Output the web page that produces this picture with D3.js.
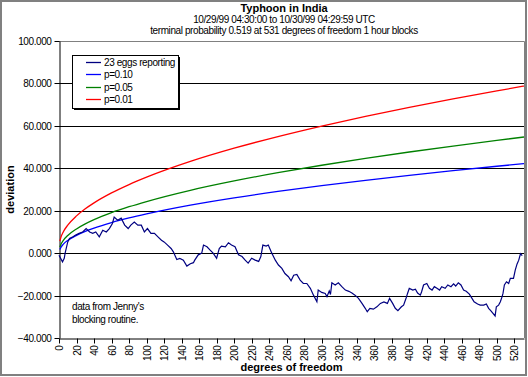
<!DOCTYPE html>
<html>
<head>
<meta charset="utf-8">
<script src="https://cdn.jsdelivr.net/npm/d3@7"></script>
<style>
  body { margin: 0; background: #fff; }
  svg text { font-family: "Liberation Sans", Arial, sans-serif; font-size: 10px; letter-spacing: -0.4px; fill: #000; }
  svg text.bold { font-size: 11px; font-weight: bold; letter-spacing: 0; }
</style>
</head>
<body>
<svg id="chart" width="528" height="377"></svg>
<script>
// degrees of freedom where the envelope curves were read
const envDf = [1, 2, 5, 10, 20, 30, 40, 60, 80, 100, 150, 200, 250, 300, 350, 400, 450, 500, 531];
const p10 = [1.71, 2.6, 4.24, 5.99, 8.41, 10.26, 11.8, 14.4, 16.58, 18.5, 22.63, 26.06, 29.09, 31.82, 34.34, 36.68, 38.88, 40.96, 42.2];
const p05 = [2.84, 3.99, 6.07, 8.31, 11.41, 13.77, 15.76, 19.08, 21.88, 24.34, 29.63, 34.04, 37.92, 41.43, 44.66, 47.67, 50.49, 53.16, 54.75];
const p01 = [5.63, 7.21, 10.09, 13.21, 17.57, 20.89, 23.69, 28.38, 32.33, 35.81, 43.23, 49.47, 54.96, 59.92, 64.49, 68.74, 72.73, 76.5, 78.75];

// cumulative deviation of the 23 eggs
const eggDf = [0, 4, 6, 7, 10, 12, 16, 19, 23, 27, 31, 35, 38.5, 42, 46, 50, 54, 57.5, 61, 63, 67, 71, 75, 79, 82, 86, 90, 94, 97.5, 101, 105, 109, 113, 117, 120, 124, 128, 130.6, 134.5, 138, 142, 146, 150, 153.5, 155, 159, 163, 165, 169, 172.6, 176, 180, 183, 185.5, 190, 193.5, 197, 201, 205, 209, 212.6, 216, 220, 224, 228, 230.5, 232.8, 236.6, 239, 243, 247, 250.6, 254.5, 258, 262, 265, 268, 271.6, 275.4, 279, 283, 287, 290.6, 294.5, 296, 300, 304, 306, 308.6, 310, 311.6, 315.4, 319, 323, 327, 331, 334.5, 338, 342, 346, 349.7, 352, 355, 359, 363, 367, 371, 375, 377.5, 381, 384, 387, 391, 393.5, 396.6, 398, 400, 404, 407, 409.5, 412.6, 414, 416.3, 420, 423, 426, 428.6, 431.6, 434.6, 437, 441, 444, 447.6, 450.6, 453, 456, 459, 462, 465, 468.6, 471.6, 474, 478, 481, 485, 488, 490.6, 493, 495.6, 498, 499.4, 502, 504, 506, 507, 508.6, 511, 513.5, 515.4, 519, 521, 523, 525, 527, 529];
const eggDev = [-1, -4.1, -2.4, 0, 5.3, 6.9, 7.7, 8.5, 9.3, 10, 11.6, 10, 9.3, 10, 7.7, 10.8, 10, 11.6, 14, 17, 15.5, 16.5, 13.2, 11.6, 13.2, 14.7, 13.2, 13.2, 10, 11.6, 9.3, 9.3, 7.7, 6.1, 5.3, 3.8, 2.2, 0.6, -3, -2.5, -3.3, -6.1, -5, -4.5, -3.3, -0.8, 0, 3.8, 3, 1.4, 0, -2.4, 2.2, 3.3, 3, 4.9, 3.8, 3, -0.8, -1.6, -3.3, -4.7, -2.4, -3.3, -3.9, -1.6, 3.8, 3.3, 3.8, 0, -3.3, -5.6, -7.2, -9.6, -11.1, -13, -10.4, -10, -12.7, -14.3, -14.3, -16.6, -19.8, -22.9, -17.4, -18.5, -19, -20.5, -17.8, -19.5, -14, -15, -14, -15.8, -17.4, -18, -18.8, -19.8, -21.3, -23.7, -26, -27.6, -26, -26.4, -25.3, -23.7, -23, -23.7, -21.3, -23.7, -26, -27.1, -25.3, -24.5, -20.9, -19, -16.6, -17.4, -17, -18.8, -19.8, -18.3, -15, -14.3, -16.6, -17.4, -15.8, -16.6, -17.4, -15.8, -16.6, -15, -15.8, -14.5, -15.5, -14, -15, -17.4, -18, -19.3, -21.3, -22.9, -24, -24.5, -24.5, -24, -26, -27.1, -28.4, -29.6, -25.3, -24.5, -22.9, -20.5, -19, -15, -13.5, -14.3, -11.9, -11.9, -8, -5.2, -3.3, -0.3, -1.2];

const xTicks = d3.range(0, 521, 20);
const yTicks = d3.range(-40, 101, 20);

const titleLines = [
  'Typhoon in India',
  '10/29/99 04:30:00 to 10/30/99 04:29:59 UTC',
  'terminal probability 0.519 at 531 degrees of freedom 1 hour blocks',
];
const legendItems = [
  { label: '23 eggs reporting', color: '#000080' },
  { label: 'p=0.10', color: '#0000ff' },
  { label: 'p=0.05', color: '#008000' },
  { label: 'p=0.01', color: '#ff0000' },
];
const noteLines = ["data from Jenny's", 'blocking routine.'];

const svg = d3.select('#chart');
const plotLeft = 59, plotRight = 524, plotTop = 41, plotBottom = 338;

const x = d3.scaleLinear().domain([0, 531]).range([plotLeft, plotRight]);
const y = d3.scaleLinear().domain([-40, 100]).range([plotBottom, plotTop]);

// outer frame
svg.append('rect')
  .attr('x', 1).attr('y', 1).attr('width', 525).attr('height', 374)
  .attr('fill', '#fff').attr('stroke', '#808080').attr('stroke-width', 2);

// titles
titleLines.forEach((t, i) => {
  svg.append('text')
    .attr('class', i === 0 ? 'bold' : null)
    .attr('x', 284).attr('y', 12 + i * 11)
    .attr('text-anchor', 'middle')
    .text(t);
});

// plot border (grey top/right)
svg.append('path')
  .attr('d', `M${plotLeft},${plotTop + 0.5}H${plotRight + 0.5}V${plotBottom}`)
  .attr('fill', 'none').attr('stroke', '#808080');

// gridlines
svg.append('g')
  .selectAll('line')
  .data(yTicks.filter((d) => d > -40 && d < 100))
  .join('line')
  .attr('x1', plotLeft).attr('x2', plotRight)
  .attr('y1', (d) => Math.round(y(d)) + 0.5)
  .attr('y2', (d) => Math.round(y(d)) + 0.5)
  .attr('stroke', '#000');

// axes
const yAxis = svg.append('g')
  .attr('transform', `translate(${plotLeft + 0.5},0)`)
  .call(d3.axisLeft(y).tickValues(yTicks).tickFormat(d3.format('.3f')).tickSize(5).tickSizeOuter(0).tickPadding(3))
  .attr('font-size', null).attr('font-family', null);
yAxis.select('.domain').attr('stroke', '#000');
yAxis.selectAll('.tick line').attr('stroke', '#000');
yAxis.selectAll('.tick').attr('transform', (d) => `translate(0,${Math.round(y(d)) + 0.5})`);

const xAxis = svg.append('g')
  .attr('transform', `translate(0,${plotBottom + 0.5})`)
  .call(d3.axisBottom(x).tickValues(xTicks).tickSize(5).tickSizeOuter(0))
  .attr('font-size', null).attr('font-family', null);
xAxis.select('.domain').attr('stroke', '#000');
xAxis.selectAll('.tick').attr('transform', (d) => `translate(${Math.round(x(d)) + 0.5},0)`);
xAxis.selectAll('.tick line').attr('stroke', '#000');
xAxis.selectAll('text')
  .attr('text-anchor', 'end')
  .attr('dy', null)
  .attr('y', 0)
  .attr('transform', 'translate(3.5,7) rotate(-90)');

// axis titles
svg.append('text')
  .attr('class', 'bold')
  .attr('transform', `translate(14,${(plotTop + plotBottom) / 2}) rotate(-90)`)
  .attr('text-anchor', 'middle')
  .text('deviation');
svg.append('text')
  .attr('class', 'bold')
  .attr('x', (plotLeft + plotRight) / 2).attr('y', 371)
  .attr('text-anchor', 'middle')
  .text('degrees of freedom');

// curves
const envLine = (vals) =>
  d3.line().x((d, i) => x(envDf[i])).y((d) => y(d)).curve(d3.curveMonotoneX)(vals);

const curves = [
  { vals: p10, color: '#0000ff' },
  { vals: p05, color: '#008000' },
  { vals: p01, color: '#ff0000' },
];
curves.forEach((c) => {
  svg.append('path')
    .attr('d', envLine(c.vals))
    .attr('fill', 'none').attr('stroke', c.color).attr('stroke-width', 1.3);
});

svg.append('path')
  .attr('d', d3.line().x((d, i) => x(eggDf[i])).y((d) => y(d))(eggDev))
  .attr('fill', 'none').attr('stroke', '#000080').attr('stroke-width', 1.2);

// legend
const lg = svg.append('g');
lg.append('rect')
  .attr('x', 74).attr('y', 57).attr('width', 106).attr('height', 53)
  .attr('fill', '#000');
lg.append('rect')
  .attr('x', 72.5).attr('y', 55.5).attr('width', 106).attr('height', 53)
  .attr('fill', '#fff').attr('stroke', '#000');
legendItems.forEach((item, i) => {
  const cy = 61.5 + i * 12.5;
  lg.append('line')
    .attr('x1', 86).attr('x2', 101)
    .attr('y1', Math.round(cy) + 0.5).attr('y2', Math.round(cy) + 0.5)
    .attr('stroke', item.color).attr('stroke-width', 1.3);
  lg.append('text')
    .attr('x', 104).attr('y', cy + 4)
    .text(item.label);
});

// note
noteLines.forEach((t, i) => {
  svg.append('text')
    .attr('x', 72).attr('y', 310 + i * 13)
    .text(t);
});
</script>
</body>
</html>
